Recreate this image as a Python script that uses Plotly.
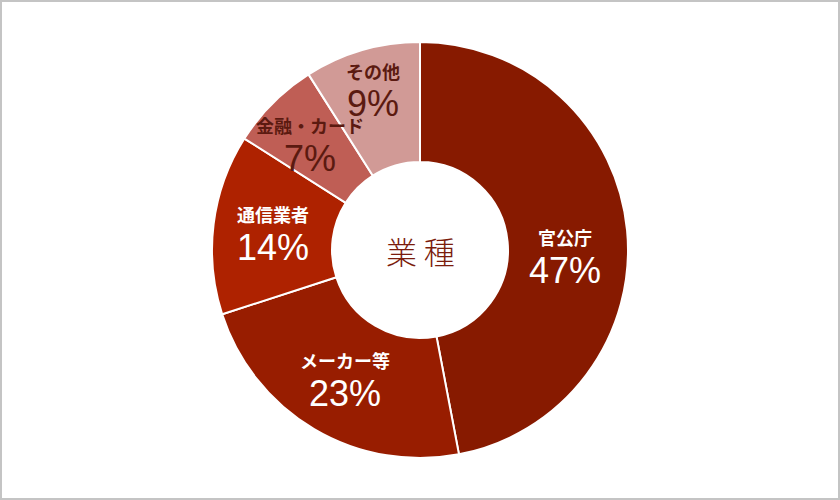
import math
import plotly.graph_objects as go

# 業種別の構成比
labels = ["官公庁", "メーカー等", "通信業者", "金融・カード", "その他"]
shares = [47, 23, 14, 7, 9]
slice_colors = ["#871a00", "#981d00", "#ae2200", "#bf5e55", "#d19a96"]
text_colors = ["#ffffff", "#ffffff", "#ffffff", "#5b1a10", "#5b1a10"]

W, H = 840, 500
MT, MB = 42, 42
R_OUT = (H - MT - MB) / 2
HOLE = 0.423
# small hand nudges of the label blocks (px, up = positive)
label_nudge = {"官公庁": (-2, -18), "その他": (-6, 20), "金融・カード": (-5, 3)}

fig = go.Figure()
fig.add_trace(go.Pie(
    labels=labels,
    values=shares,
    textinfo="none",
    marker=dict(colors=slice_colors, line=dict(color="#ffffff", width=2)),
    hole=HOLE,
    sort=False,
    direction="clockwise",
    rotation=0,
    showlegend=False,
    hoverinfo="label+percent",
))

# slice labels at the middle of each ring segment
total = sum(shares)
cum = 0
r_lab = R_OUT * (1 + HOLE) / 2
for lab, v, c in zip(labels, shares, text_colors):
    mid = (cum + v / 2) / total * 2 * math.pi
    cum += v
    nx, ny = label_nudge.get(lab, (0, 0))
    px = 0.5 + (r_lab * math.sin(mid) + nx) / W
    py = 0.5 + (r_lab * math.cos(mid) + ny) / (H - MT - MB)
    fig.add_annotation(
        text="<b>%s</b>" % lab, x=px, y=py, xref="paper", yref="paper",
        xanchor="center", yanchor="middle",
        showarrow=False, yshift=17,
        font=dict(family="Noto Sans CJK JP", size=18, color=c),
    )
    fig.add_annotation(
        text="%d%%" % v, x=px, y=py, xref="paper", yref="paper",
        xanchor="center", yanchor="middle",
        showarrow=False, yshift=-16,
        font=dict(family="Liberation Sans", size=36, color=c),
    )

fig.add_annotation(
    text="業 種", x=0.5, y=0.5, xref="paper", yref="paper", showarrow=False,
    xanchor="center", yanchor="middle",
    font=dict(family="Noto Sans CJK JP", size=31, color="#7b1c0c", weight=300),
)

# gray frame around the whole picture
fig.add_shape(
    type="rect", xref="paper", yref="paper",
    x0=1 / W, x1=1 - 1 / W,
    y0=-(MB - 1) / (H - MT - MB), y1=1 + (MT - 1) / (H - MT - MB),
    line=dict(color="#c4c4c4", width=2), layer="above",
)

fig.update_layout(
    width=W, height=H,
    margin=dict(l=0, r=0, t=MT, b=MB),
    paper_bgcolor="#ffffff",
    plot_bgcolor="#ffffff",
    font=dict(family="Noto Sans CJK JP"),
)

fig.write_html("out.html", config={"displayModeBar": False},
               post_script="document.body.style.margin='0';")
